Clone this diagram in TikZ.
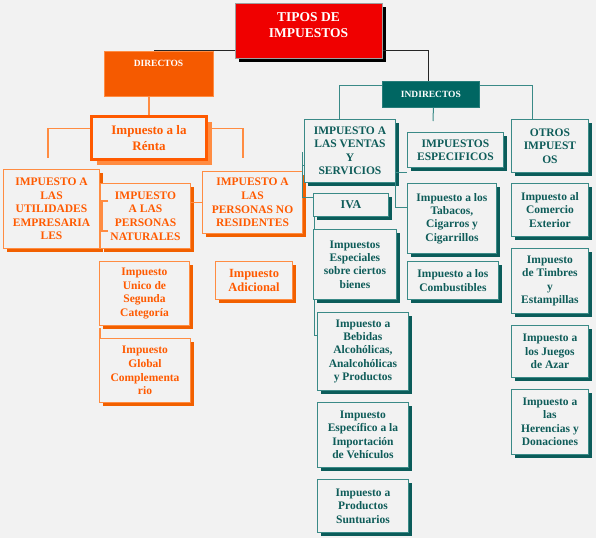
\documentclass[tikz,border=0pt]{standalone}
\usepackage{fontspec}
\setmainfont{Liberation Serif}
\definecolor{bgc}{HTML}{F2F2F2}
\definecolor{tred}{HTML}{F00000}
\definecolor{dorange}{HTML}{F55A00}
\definecolor{oline}{HTML}{FF8C42}
\definecolor{otext}{HTML}{FF5A00}
\definecolor{oshadow}{HTML}{F26000}
\definecolor{tfill}{HTML}{006662}
\definecolor{tline}{HTML}{3A8A87}
\definecolor{ttext}{HTML}{0E5C59}
\definecolor{tshadow}{HTML}{0B5C5A}
\begin{document}
\begin{tikzpicture}[x=1pt,y=-1pt,
  sz/.style 2 args={minimum width=#1pt, minimum height=#2pt},
  base/.style={anchor=north west, align=center, inner sep=1pt},
  shad/.style 2 args={preaction={fill=#1, draw=none, transform canvas={xshift=#2, yshift=-#2}}},
  redbox/.style={base, fill=tred, draw=gray!75, line width=1pt, shad={black}{3pt}},
  dirbox/.style={base, fill=dorange, draw=oline, line width=1pt},
  indbox/.style={base, fill=tfill, draw=tfill!85!white, line width=0.8pt,
    text=white, font=\bfseries\fontsize{9.5}{11}\selectfont},
  rentabox/.style={base, fill=bgc, draw=otext, line width=3pt, text=otext,
    font=\bfseries\fontsize{13}{16.5}\selectfont, shad={oline}{5pt}},
  obox/.style={base, fill=bgc, draw=oline, line width=1pt, text=otext,
    font=\bfseries\fontsize{11.5}{13.6}\selectfont, shad={oshadow}{3pt}},
  tbox/.style={base, fill=bgc, draw=tline, line width=0.9pt, text=ttext,
    font=\bfseries\fontsize{11.5}{13.4}\selectfont, shad={tshadow}{3.5pt}},
  wlbl/.style={text=white, align=center, inner sep=0pt},
  blk/.style={draw=black!85, line width=1pt},
  ocon/.style={draw=oline, line width=1.2pt},
  tcon/.style={draw=tline, line width=1pt}
]
\fill[bgc] (0,0) rectangle (596,538);
\useasboundingbox (0,0) rectangle (596,538);

% top
\node[redbox, sz={147}{55}] (tipos) at (235,3) {};
\node[wlbl, font=\bfseries\fontsize{13.5}{16}\selectfont] (tiposlbl) at (308.5,25) {TIPOS DE\\IMPUESTOS};

% directos side
\node[dirbox, sz={109}{45}] (dir) at (104,51) {};
\node[wlbl, font=\bfseries\fontsize{9.5}{11}\selectfont] (dirlbl) at (158.5,63) {DIRECTOS};
\node[rentabox, sz={115}{43}] (renta) at (90,115) {Impuesto a la\\Rénta};
\node[obox, sz={96}{79}] (util) at (3,169) {IMPUESTO A\\LAS\\UTILIDADES\\EMPRESARIA\\LES};
\node[obox, sz={90}{65}] (nat) at (100,183) {IMPUESTO\\A LAS\\PERSONAS\\NATURALES};
\node[obox, sz={100}{62}] (res) at (202,171) {IMPUESTO A\\LAS\\PERSONAS NO\\RESIDENTES};
\node[obox, sz={90}{64}] (unico) at (99,261) {Impuesto\\Unico de\\Segunda\\Categoría};
\node[obox, sz={91}{64}] (glob) at (99,338) {Impuesto\\Global\\Complementa\\rio};
\node[obox, sz={77}{38}, font=\bfseries\fontsize{12.5}{13.6}\selectfont] (adic) at (215,261) {Impuesto\\Adicional};

% indirectos side
\node[indbox, sz={97}{26}] (ind) at (382,81) {INDIRECTOS};
\node[tbox, sz={91}{63}] (ventas) at (304,119) {IMPUESTO A\\LAS VENTAS\\Y\\SERVICIOS};
\node[tbox, sz={96}{35}] (espec) at (407,132) {IMPUESTOS\\ESPECIFICOS};
\node[tbox, sz={77}{53}] (otros) at (511,119) {OTROS\\IMPUEST\\OS};
\node[tbox, sz={75}{23}, font=\bfseries\fontsize{12}{13.4}\selectfont] (iva) at (313,193) {IVA};
\node[tbox, sz={83}{70}] (esp) at (313,229) {Impuestos\\Especiales\\sobre ciertos\\bienes};
\node[tbox, sz={91}{78}] (beb) at (317,312) {Impuesto a\\Bebidas\\Alcohólicas,\\Analcohólicas\\y Productos};
\node[tbox, sz={91}{65}] (veh) at (317,402) {Impuesto\\Específico a la\\Importación\\de Vehículos};
\node[tbox, sz={91}{53}] (sunt) at (317,479) {Impuesto a\\Productos\\Suntuarios};
\node[tbox, sz={89}{70}] (tab) at (407,183) {Impuesto a los\\Tabacos,\\Cigarros y\\Cigarrillos};
\node[tbox, sz={91}{38}] (comb) at (407,261) {Impuesto a los\\Combustibles};
\node[tbox, sz={77}{53}] (come) at (511,183) {Impuesto al\\Comercio\\Exterior};
\node[tbox, sz={77}{65}] (timb) at (511,248) {Impuesto\\de Timbres\\y\\Estampillas};
\node[tbox, sz={77}{52}] (jueg) at (511,325) {Impuesto a\\los Juegos\\de Azar};
\node[tbox, sz={77}{65}] (her) at (511,389) {Impuesto a\\las\\Herencias y\\Donaciones};

% free ends
\coordinate (rl) at (48,158);
\coordinate (rr) at (243,158);
\coordinate (bt) at (108,201);
\coordinate (bb) at (108,231);
\coordinate (vt) at (302,152);
\coordinate (vk) at (302,165);
\coordinate (im) at (433,121);

% black connectors
\draw[blk] ([yshift=9pt]tipos.south west) -| ([xshift=-5pt]dir.north);
\draw[blk] ([yshift=9pt]tipos.south east) -| ([xshift=-2pt]ind.north);

% orange connectors
\draw[ocon] (renta.north) -- (renta.north |- dir.south);
\draw[ocon] ([yshift=9.5pt]renta.west) -| (rl);
\draw[ocon] ([yshift=9.5pt]renta.east) -| (rr);
\draw[ocon] (res.west) -- (res.west -| nat.east);
\draw[ocon] (bt) -- ++(-6,0) |- (bb);
\draw[ocon] ([xshift=1pt]glob.north west) -- ++(0,-10);

% teal connectors
\draw[tcon] ([yshift=9pt]ind.west) -| ([xshift=-10pt]ventas.north);
\draw[tcon] ([yshift=9pt]ind.east) -| ([xshift=-17pt]otros.north);
\draw[tcon] ([xshift=2.5pt]ind.south) -- (im);
\draw[tcon] ([yshift=7.5pt]iva.west) -| (vt);
\draw[tcon] (vk) -- (vk -| ventas.west);
\draw[tcon] ([xshift=1pt]iva.south west) -- ([xshift=1pt]esp.north west);
\draw[tcon] ([xshift=1pt]esp.south west) |- ([yshift=16pt]beb.west);
\draw[tcon] ([yshift=-21.5pt]ventas.east) -- ([yshift=-21.5pt]ventas.east -| espec.west);
\draw[tcon] ([yshift=11pt]tab.west) -| (ventas.south east);
\end{tikzpicture}
\end{document}
